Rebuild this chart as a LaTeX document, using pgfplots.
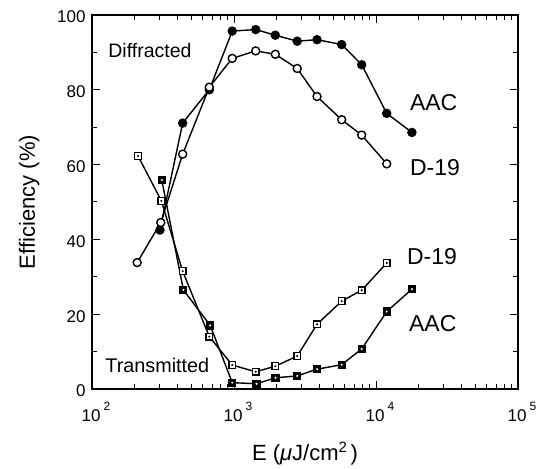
\documentclass[border=0pt]{standalone}
\usepackage{fontspec}
\setmainfont{Liberation Sans}
\usepackage{pgfplots}
\usepackage{pgfplotstable}
\pgfplotsset{compat=1.18}

% diffracted efficiency
\pgfplotstableread{
E eff
301 42.5
435 71.1
670 80.0
972 95.7
1422 96.1
1954 94.6
2787 93.0
3843 93.4
5732 92.1
7930 86.7
11900 73.7
17900 68.6
}\aacdiff
\pgfplotstableread{
E eff
208 33.8
305 44.5
435 62.8
670 80.7
972 88.4
1422 90.4
1954 89.5
2787 85.7
3843 78.2
5732 72.0
7930 67.9
11900 60.2
}\ddiff
% transmitted efficiency
\pgfplotstableread{
E eff
310 55.9
440 26.5
680 17.0
972 1.7
1440 1.4
1960 3.0
2787 3.5
3843 5.3
5732 6.5
7930 10.7
11900 20.7
17900 26.7
}\aactrans
\pgfplotstableread{
E eff
211 62.3
308 50.3
435 31.5
670 14.0
972 6.4
1422 4.6
1954 6.1
2787 8.8
3843 17.3
5732 23.5
7930 26.4
11900 33.7
}\dtrans

\newcommand{\tenp}[1]{10\hspace{3pt}\raisebox{11pt}{\fontsize{12}{12}\selectfont #1}}

\begin{document}
\begin{tikzpicture}
\begin{axis}[
  name=ax,
  scale only axis,
  width=426pt, height=374pt,
  xmode=log,
  xmin=100, xmax=100000,
  ymin=0, ymax=100,
  xtick={100,1000,10000,100000},
  xticklabels={\tenp{2},\tenp{3},\tenp{4},\tenp{5}},
  ytick={0,20,40,60,80,100},
  minor ytick={10,30,50,70,90},
  tick align=inside,
  major tick length=8pt, minor tick length=5pt,
  axis line style={line width=1.3pt},
  every tick/.style={black, line width=1pt},
  tick label style={font=\fontsize{17}{18}\selectfont},
  /pgf/number format/assume math mode=true,
  yticklabel style={xshift=-3pt, yshift=-2pt},
  xticklabel style={anchor=base, yshift=-32pt, xshift=4pt},
  xlabel={E (\textit{μ}J/cm\raisebox{8pt}{\fontsize{15}{15}\selectfont 2}\,)},
  ylabel={Efficiency (\%)},
  label style={font=\fontsize{22}{24}\selectfont},
  xlabel style={at={(axis description cs:0.5,-0.19)}, anchor=base},
  ylabel style={at={(axis description cs:-0.134,0.5)}, anchor=base},
  clip=false,
]
\addplot[black, line width=1.4pt, mark=*, mark size=4pt] table {\aacdiff};
\addplot[black, line width=1.4pt, mark=*, mark size=4pt, mark options={fill=white}] table {\ddiff};
\addplot[black, line width=1.4pt, mark=square*, mark size=3.4pt, mark options={fill=white}] table {\dtrans};
\addplot[only marks, black, mark=*, mark size=0.8pt] table {\dtrans};
\addplot[black, line width=1.4pt, mark=square*, mark size=3.4pt] table {\aactrans};
\addplot[only marks, white, mark=*, mark size=0.8pt] table {\aactrans};

\node[anchor=west, inner sep=0pt, font=\fontsize{19.5}{20}\selectfont] at (rel axis cs:0.038,0.906) {Diffracted};
\node[anchor=west, inner sep=0pt, font=\fontsize{19.8}{20}\selectfont] at (rel axis cs:0.031,0.064) {Transmitted};
\node[anchor=west, inner sep=0pt, font=\fontsize{23}{24}\selectfont] at (rel axis cs:0.746,0.767) {AAC};
\node[anchor=west, inner sep=0pt, font=\fontsize{23}{24}\selectfont] at (rel axis cs:0.746,0.591) {D-19};
\node[anchor=west, inner sep=0pt, font=\fontsize{23}{24}\selectfont] at (rel axis cs:0.739,0.353) {D-19};
\node[anchor=west, inner sep=0pt, font=\fontsize{23}{24}\selectfont] at (rel axis cs:0.744,0.176) {AAC};
\end{axis}
\pgfresetboundingbox
\path[use as bounding box] ([shift={(-92pt,-79pt)}]ax.south west) rectangle ([shift={(30pt,15pt)}]ax.north east);
\end{tikzpicture}
\end{document}
